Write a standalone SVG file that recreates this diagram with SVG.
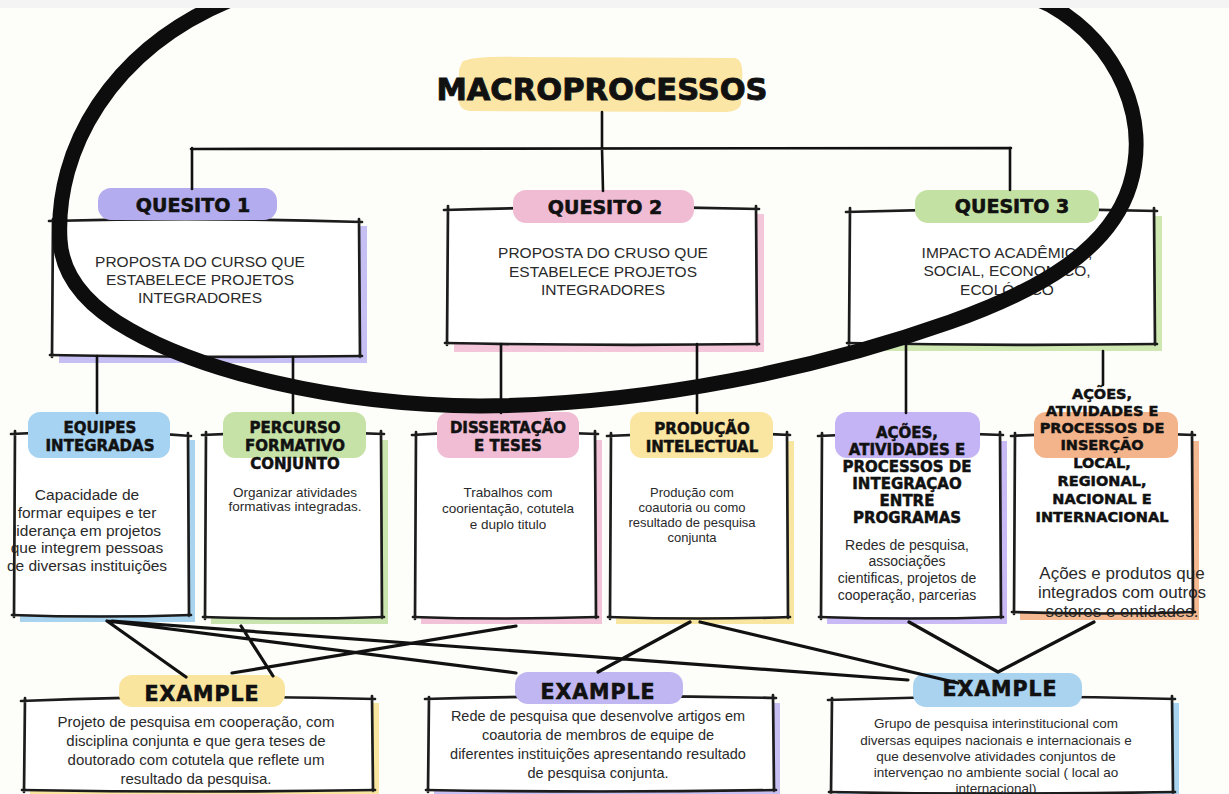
<svg xmlns="http://www.w3.org/2000/svg" width="1229" height="794" viewBox="0 0 1229 794">
<style>
.bx{fill:#ffffff;stroke:none}
.ol{fill:none;stroke:#1c1c1c;stroke-width:2.7;stroke-linecap:round;stroke-linejoin:round}
.tg{font-family:"DejaVu Sans",sans-serif;font-weight:bold;fill:#111;stroke:#111;stroke-width:0.5;text-anchor:middle}
.tq{font-family:"DejaVu Sans",sans-serif;font-weight:bold;fill:#111;stroke:#111;stroke-width:0.6;text-anchor:middle;font-size:19px}
.tb{font-family:"Liberation Sans",sans-serif;fill:#2a2a2a;text-anchor:middle}
.tu{font-family:"Liberation Sans",sans-serif;fill:#2a2a2a;text-anchor:middle;font-size:15.5px}
.ex{font-family:"DejaVu Sans",sans-serif;font-weight:bold;fill:#111;stroke:#111;stroke-width:0.6;text-anchor:middle;font-size:20.5px;letter-spacing:1px}
.cn{fill:none;stroke:#111;stroke-width:2.6;stroke-linecap:round}
.cx{fill:none;stroke:#111;stroke-width:3.2;stroke-linecap:round}
</style>
<rect x="0" y="0" width="1229" height="794" fill="#fdfdf9"/>

<g id="macroprocessos">
<path d="M462 62 Q470 56 520 57 L735 58 Q744 60 742 80 L741 104 Q738 113 720 112 L470 111 Q458 110 458 96 L459 70 Z" fill="#fbe6a6"/>
<text class="tg" x="602" y="100" font-size="30.5" style="stroke-width:0.9">MACROPROCESSOS</text>
</g>

<g id="quesito1">
<rect x="59" y="226" width="308" height="137" fill="#c5bff3"/>
<rect class="bx" x="52" y="220" width="307" height="136"/>
<text class="tu" x="200" y="267">PROPOSTA DO CURSO QUE</text>
<text class="tu" x="200" y="285">ESTABELECE PROJETOS</text>
<text class="tu" x="200" y="303">INTEGRADORES</text>
<path class="ol" d="M49 221 Q200 217 362 222 M359 219 L360 357 M362 356 Q200 358 50 355 M52 357 L53 219"/>
<rect x="98" y="188" width="179" height="32" rx="13" fill="#b3acef"/>
<text class="tq" x="193" y="212">QUESITO 1</text>
</g>

<g id="quesito2">
<rect x="454" y="214" width="310" height="138" fill="#f3c6da"/>
<rect class="bx" x="447" y="208" width="309" height="136"/>
<text class="tu" x="603" y="258">PROPOSTA DO CRUSO QUE</text>
<text class="tu" x="603" y="277">ESTABELECE PROJETOS</text>
<text class="tu" x="603" y="295">INTEGRADORES</text>
<path class="ol" d="M444 210 Q600 205 759 209 M756 206 L757 345 M759 344 Q600 346 445 343 M447 345 L448 206"/>
<rect x="513" y="190" width="181" height="33" rx="13" fill="#f0bcd3"/>
<text class="tq" x="605" y="214">QUESITO 2</text>
</g>

<g id="quesito3">
<rect x="856" y="216" width="306" height="135" fill="#cfe8b2"/>
<rect class="bx" x="849" y="210" width="305" height="134"/>
<text class="tu" x="1007" y="258">IMPACTO ACADÊMICO,</text>
<text class="tu" x="1007" y="276">SOCIAL, ECONOMICO,</text>
<text class="tu" x="1007" y="295">ECOLÓGICO</text>
<path class="ol" d="M846 212 Q1000 207 1157 211 M1154 208 L1155 345 M1157 344 Q1000 346 847 343 M849 345 L850 208"/>
<rect x="915" y="190" width="184" height="33" rx="13" fill="#c4e1a4"/>
<text class="tq" x="1012" y="213">QUESITO 3</text>
</g>

<g id="equipes">
<rect x="20" y="440" width="175" height="182" fill="#a9d4f0"/>
<rect class="bx" x="14" y="432" width="174" height="183"/>
<text class="tb" font-size="15.5" x="87" y="500">Capacidade de</text>
<text class="tb" font-size="15.5" x="87" y="518">formar equipes e ter</text>
<text class="tb" font-size="15.5" x="87" y="536">liderança em projetos</text>
<text class="tb" font-size="15.5" x="87" y="553">que integrem pessoas</text>
<text class="tb" font-size="15.5" x="87" y="571">de diversas instituições</text>
<path class="ol" d="M11 434 Q100 429 191 436 M188 433 L189 616 M191 615 Q100 618 12 615 M14 617 L15 431"/>
<rect x="28" y="412" width="142" height="46" rx="12" fill="#a6d3f1"/>
<text class="tg" font-size="15" x="100" y="433">EQUIPES</text>
<text class="tg" font-size="15" x="100" y="451">INTEGRADAS</text>
</g>

<g id="percurso">
<rect x="211" y="440" width="177" height="184" fill="#c9e4ae"/>
<rect class="bx" x="205" y="432" width="176" height="185"/>
<text class="tb" font-size="13.5" x="295" y="497">Organizar atividades</text>
<text class="tb" font-size="13.5" x="295" y="511">formativas integradas.</text>
<path class="ol" d="M202 435 Q290 430 384 434 M381 431 L382 618 M384 617 Q290 620 203 617 M205 619 L206 432"/>
<rect x="223" y="412" width="143" height="46" rx="12" fill="#c6e2a7"/>
<text class="tg" font-size="15" x="295" y="433">PERCURSO</text>
<text class="tg" font-size="15" x="295" y="451">FORMATIVO</text>
<text class="tg" font-size="15" x="295" y="469">CONJUNTO</text>
</g>

<g id="dissertacao">
<rect x="421" y="440" width="181" height="184" fill="#f2c3d8"/>
<rect class="bx" x="415" y="432" width="180" height="185"/>
<text class="tb" font-size="13.5" x="508" y="497">Trabalhos com</text>
<text class="tb" font-size="13.5" x="508" y="513">coorientação, cotutela</text>
<text class="tb" font-size="13.5" x="508" y="529">e duplo titulo</text>
<path class="ol" d="M412 435 Q500 430 598 434 M595 431 L596 618 M598 617 Q500 620 413 617 M415 619 L416 432"/>
<rect x="437" y="412" width="142" height="46" rx="12" fill="#f1bdd5"/>
<text class="tg" font-size="15" x="508" y="433">DISSERTAÇÃO</text>
<text class="tg" font-size="15" x="508" y="451">E TESES</text>
</g>

<g id="producao">
<rect x="616" y="441" width="178" height="183" fill="#f8e6a0"/>
<rect class="bx" x="610" y="433" width="177" height="184"/>
<text class="tb" font-size="13" x="692" y="497">Produção com</text>
<text class="tb" font-size="13" x="692" y="512">coautoria ou como</text>
<text class="tb" font-size="13" x="692" y="527">resultado de pesquisa</text>
<text class="tb" font-size="13" x="692" y="542">conjunta</text>
<path class="ol" d="M607 436 Q700 431 790 435 M787 432 L788 618 M790 617 Q700 620 608 617 M610 619 L611 433"/>
<rect x="630" y="412" width="143" height="46" rx="12" fill="#fae6a1"/>
<text class="tg" font-size="15" x="702" y="434">PRODUÇÃO</text>
<text class="tg" font-size="15" x="702" y="452">INTELECTUAL</text>
</g>

<g id="integracao">
<rect x="827" y="441" width="180" height="183" fill="#c9b9f5"/>
<rect class="bx" x="821" y="433" width="179" height="184"/>
<text class="tb" font-size="14" x="907" y="550">Redes de pesquisa,</text>
<text class="tb" font-size="14" x="907" y="566">associações</text>
<text class="tb" font-size="14" x="907" y="583">cientificas, projetos de</text>
<text class="tb" font-size="14" x="907" y="600">cooperação, parcerias</text>
<path class="ol" d="M818 436 Q910 431 1003 435 M1000 432 L1001 618 M1003 617 Q910 620 819 617 M821 619 L822 433"/>
<rect x="835" y="412" width="145" height="46" rx="12" fill="#c4b4f6"/>
<text class="tg" font-size="15" x="907" y="438">AÇÕES,</text>
<text class="tg" font-size="15" x="907" y="455">ATIVIDADES E</text>
<text class="tg" font-size="15" x="907" y="472">PROCESSOS DE</text>
<text class="tg" font-size="15" x="907" y="489">INTEGRAÇAO</text>
<text class="tg" font-size="15" x="907" y="506">ENTRE</text>
<text class="tg" font-size="15" x="907" y="523">PROGRAMAS</text>
</g>

<g id="insercao">
<rect x="1020" y="441" width="179" height="179" fill="#f4b990"/>
<rect class="bx" x="1014" y="433" width="178" height="179"/>
<text class="tb" font-size="17" x="1122" y="579">Ações e produtos que</text>
<text class="tb" font-size="17" x="1122" y="598">integrados com outros</text>
<text class="tb" font-size="17" x="1122" y="617">setores e entidades.</text>
<path class="ol" d="M1011 436 Q1100 431 1195 435 M1192 432 L1193 613 M1195 612 Q1100 615 1012 612 M1014 614 L1015 433"/>
<rect x="1034" y="412" width="144" height="46" rx="12" fill="#f3b48b"/>
<text class="tg" font-size="14.5" x="1102" y="399">AÇÕES,</text>
<text class="tg" font-size="14.5" x="1102" y="416">ATIVIDADES E</text>
<text class="tg" font-size="14.5" x="1102" y="433">PROCESSOS DE</text>
<text class="tg" font-size="14.5" x="1102" y="450">INSERÇÃO</text>
<text class="tg" font-size="14.5" x="1102" y="468">LOCAL,</text>
<text class="tg" font-size="14.5" x="1102" y="486">REGIONAL,</text>
<text class="tg" font-size="14.5" x="1102" y="504">NACIONAL E</text>
<text class="tg" font-size="14.5" x="1102" y="522">INTERNACIONAL</text>
</g>

<g id="example1">
<rect x="30" y="703" width="349" height="94" fill="#f8e5a0"/>
<rect class="bx" x="24" y="698" width="348" height="92"/>
<text class="tb" font-size="15" x="196" y="727">Projeto de pesquisa em cooperação, com</text>
<text class="tb" font-size="15" x="196" y="746">disciplina conjunta e que gera teses de</text>
<text class="tb" font-size="15" x="196" y="765">doutorado com cotutela que reflete um</text>
<text class="tb" font-size="15" x="196" y="784">resultado da pesquisa.</text>
<path class="ol" d="M21 701 Q200 694 375 699 M372 696 L373 791 M375 790 Q200 793 22 790 M24 792 L25 698"/>
<rect x="119" y="675" width="166" height="32" rx="13" fill="#fae59f"/>
<text class="ex" x="202" y="701">EXAMPLE</text>
</g>

<g id="example2">
<rect x="434" y="703" width="346" height="94" fill="#c7bff2"/>
<rect class="bx" x="428" y="697" width="345" height="93"/>
<text class="tb" font-size="14.5" x="598" y="721">Rede de pesquisa que desenvolve artigos em</text>
<text class="tb" font-size="14.5" x="598" y="740">coautoria de membros de equipe de</text>
<text class="tb" font-size="14.5" x="598" y="759">diferentes instituições apresentando resultado</text>
<text class="tb" font-size="14.5" x="598" y="778">de pesquisa conjunta.</text>
<path class="ol" d="M425 699 Q600 694 776 698 M773 695 L774 791 M776 790 Q600 793 426 790 M428 792 L429 697"/>
<rect x="515" y="672" width="168" height="32" rx="13" fill="#c0b6f2"/>
<text class="ex" x="598" y="699">EXAMPLE</text>
</g>

<g id="example3">
<rect x="837" y="703" width="342" height="96" fill="#a9d4f0"/>
<rect class="bx" x="831" y="698" width="341" height="94"/>
<text class="tb" font-size="13.5" x="996" y="728">Grupo de pesquisa interinstitucional com</text>
<text class="tb" font-size="13.5" x="996" y="745">diversas equipes nacionais e internacionais e</text>
<text class="tb" font-size="13.5" x="996" y="761">que desenvolve atividades conjuntos de</text>
<text class="tb" font-size="13.5" x="996" y="777">intervençao no ambiente social ( local ao</text>
<text class="tb" font-size="13.5" x="996" y="793">internacional)</text>
<path class="ol" d="M828 700 Q1000 694 1175 699 M1172 696 L1173 793 M1175 792 Q1000 795 829 792 M831 794 L832 698"/>
<rect x="913" y="673" width="169" height="34" rx="13" fill="#a9d3ef"/>
<text class="ex" x="1000" y="696">EXAMPLE</text>
</g>

<g id="connectors">
<path class="cn" d="M602 112 L602 149 M191 149 L1011 148 M192 148 L192 189 M602 148 L603 191 M1010 148 L1010 190"/>
<path class="cn" d="M97 356 L97 413 M293 357 L293 413 M501 344 L501 413 M697 344 L697 413 M906 344 L906 413 M1103 351 L1103 385"/>
<path class="cx" d="M107 621 L186 677 M107 621 L516 673 M112 621 L908 680 M241 626 L273 676 M516 626 L232 673 M690 622 L598 672 M700 622 L958 683 M909 622 L998 672 M1094 622 L998 672"/>
</g>

<path d="M60 240 C55 150 110 50 230 0 C420 -90 850 -90 1050 5 C1120 45 1150 120 1130 185 C1110 250 1040 290 950 322 C820 368 650 405 480 406 C330 405 200 370 130 330 C85 305 62 275 60 240 Z" fill="none" stroke="#0d0d0d" stroke-width="15"/>
<rect x="0" y="0" width="1229" height="8" fill="#f4f4f4"/>
</svg>
